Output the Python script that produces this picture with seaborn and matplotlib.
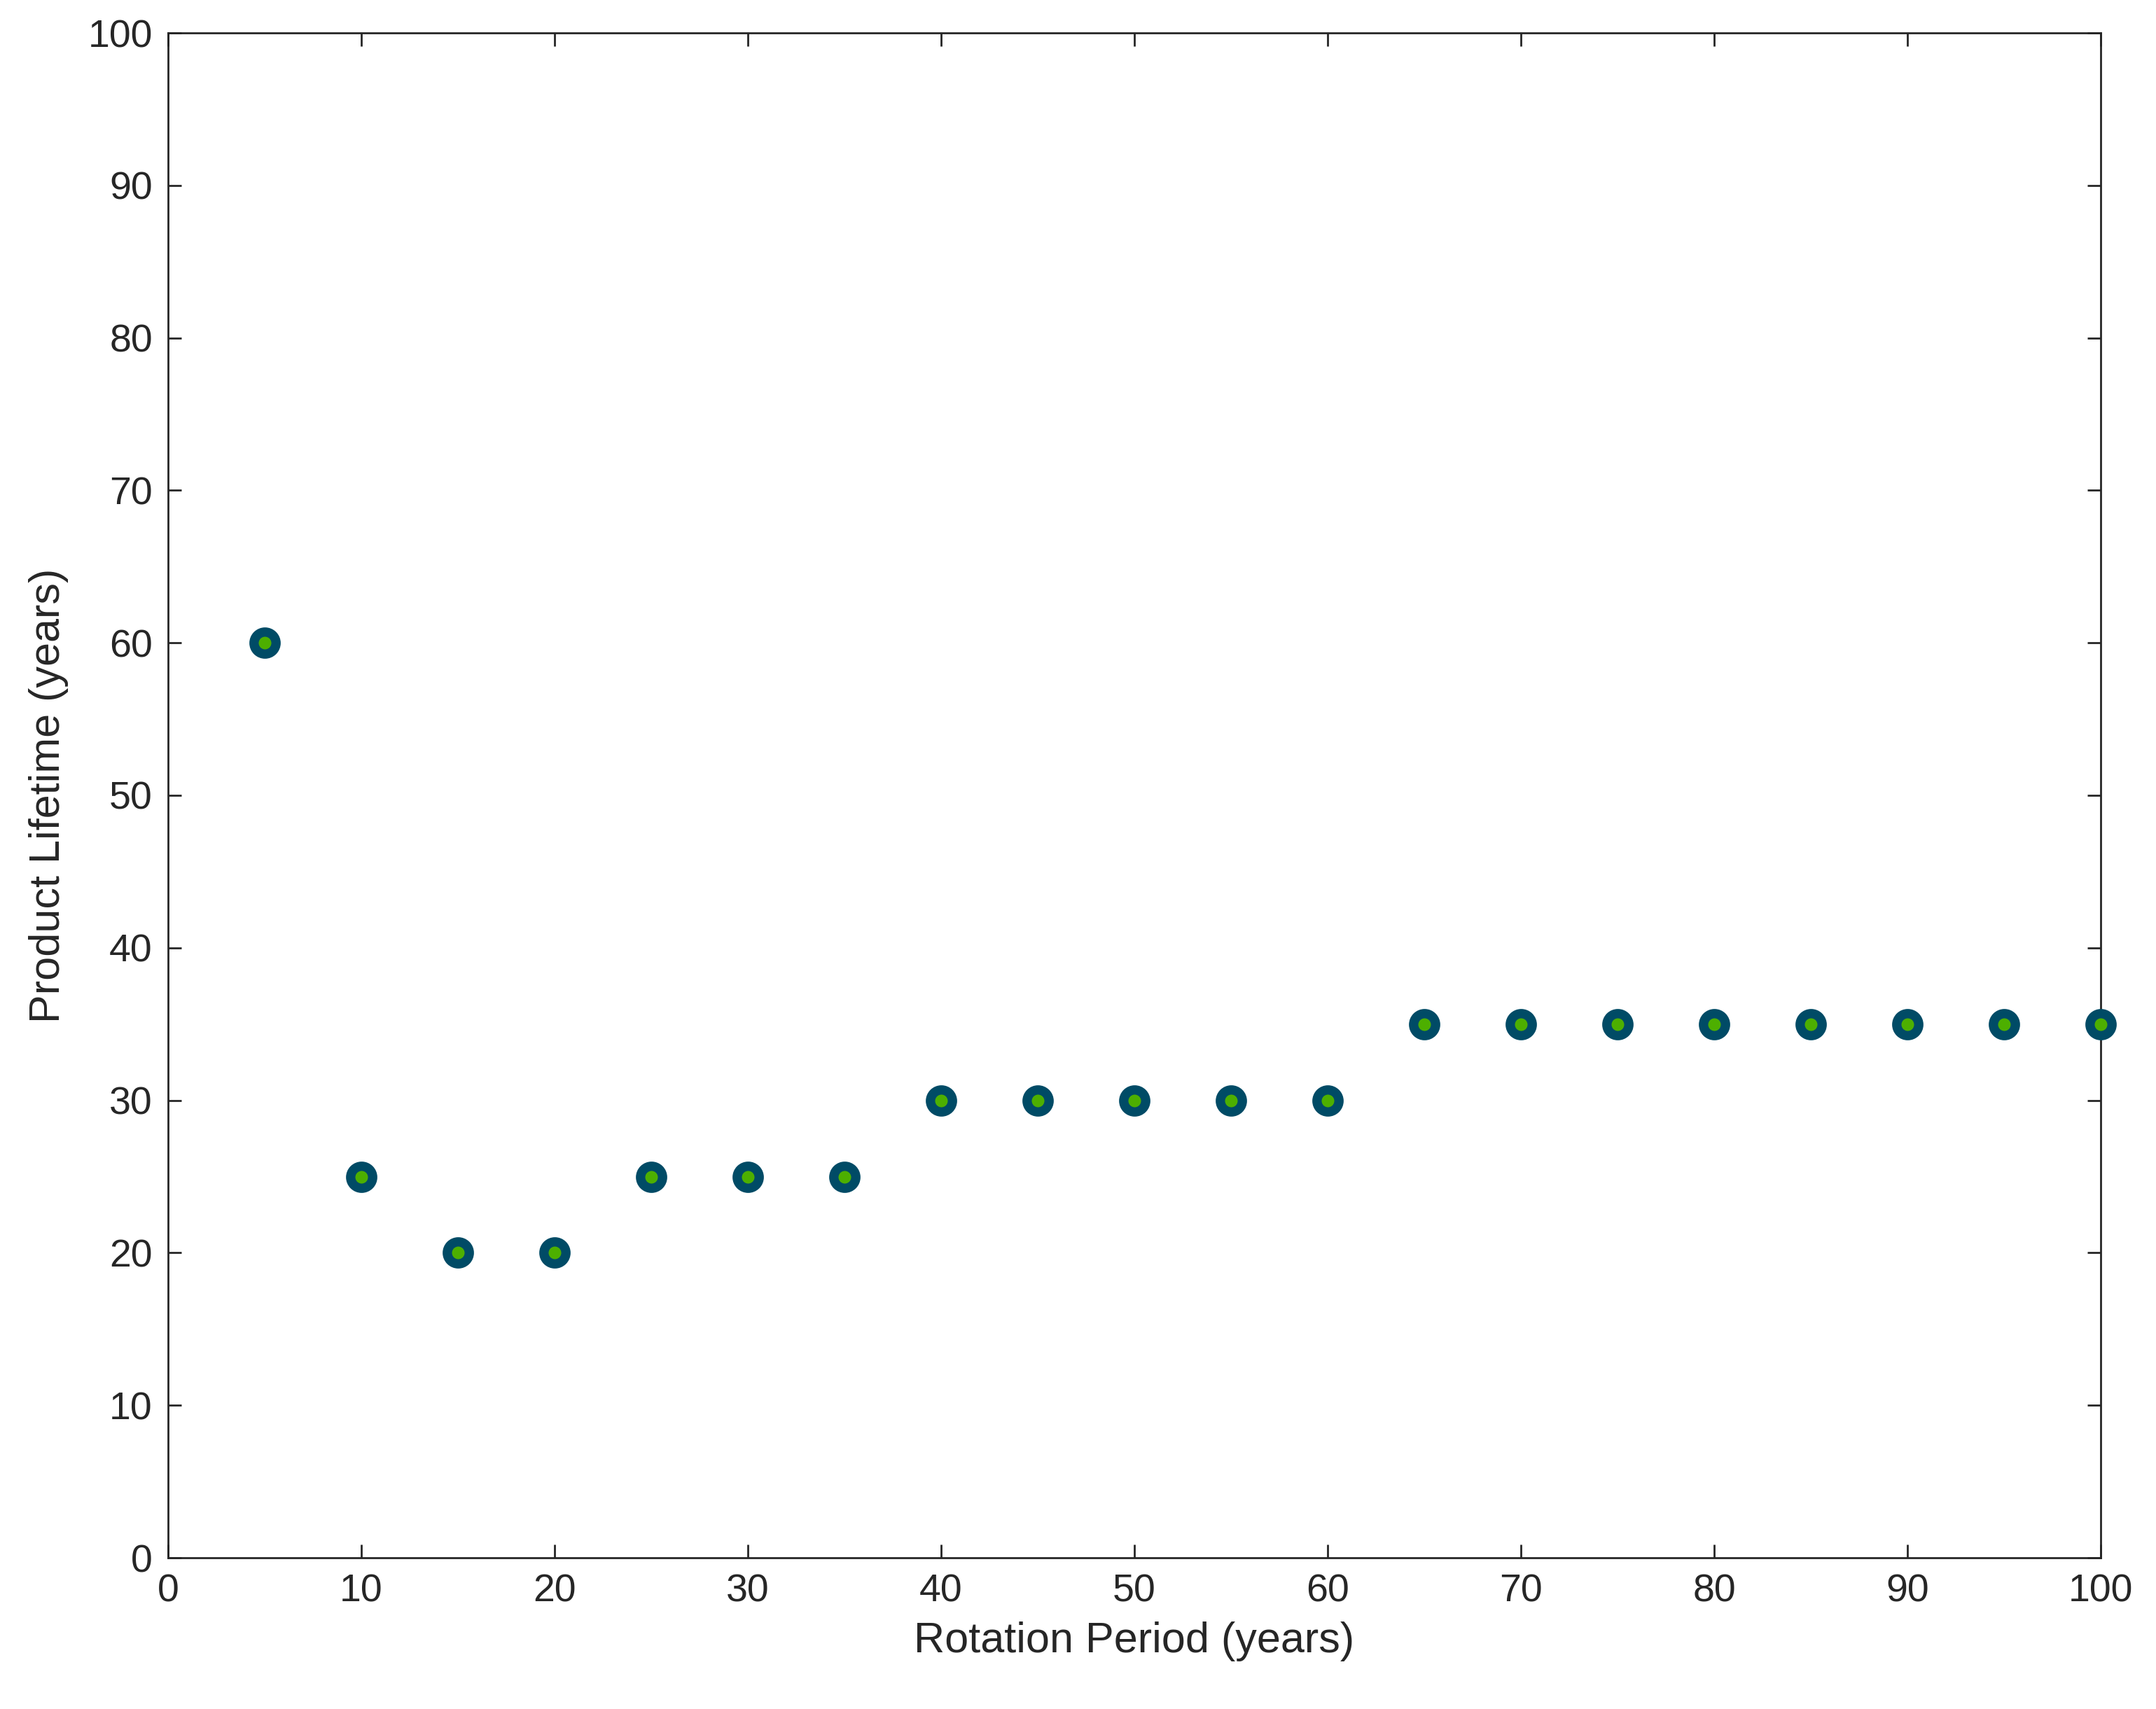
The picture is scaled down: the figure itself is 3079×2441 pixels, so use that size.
import matplotlib
matplotlib.use("Agg")
import matplotlib.pyplot as plt
import seaborn as sns
import pandas as pd

rotation = [5,10,15,20,25,30,35,40,45,50,55,60,65,70,75,80,85,90,95,100]
lifetime = [60,25,20,20,25,25,25,30,30,30,30,30,35,35,35,35,35,35,35,35]
df = pd.DataFrame({"Rotation Period (years)": rotation, "Product Lifetime (years)": lifetime})

sns.set_theme(style="ticks")
plt.rcParams['font.family'] = ['Arial', 'Liberation Sans', 'DejaVu Sans']
fig = plt.figure(figsize=(15.395, 12.205), dpi=200)
left, right, top, bottom = 240, 3000, 47, 2225
ax = fig.add_axes([left/3079, 1-bottom/2441, (right-left)/3079, (bottom-top)/2441])
sns.scatterplot(data=df, x="Rotation Period (years)", y="Product Lifetime (years)", ax=ax,
                s=11.3**2, color="#4daf00", edgecolor="#004b66", linewidth=4.8, clip_on=False, zorder=3)
ax.set_xlim(0, 100); ax.set_ylim(0, 100)
ax.set_xticks(range(0, 101, 10)); ax.set_yticks(range(0, 101, 10))
ax.tick_params(direction="in", top=True, right=True, labelsize=20, length=7, width=1, colors="#262626", pad=8)
for s in ax.spines.values():
    s.set_linewidth(1); s.set_color("#262626")
ax.set_xlabel("Rotation Period (years)", fontsize=22, color="#262626", labelpad=6)
ax.set_ylabel("Product Lifetime (years)", fontsize=22, color="#262626", labelpad=10)
fig.savefig("out.png", dpi=200)
